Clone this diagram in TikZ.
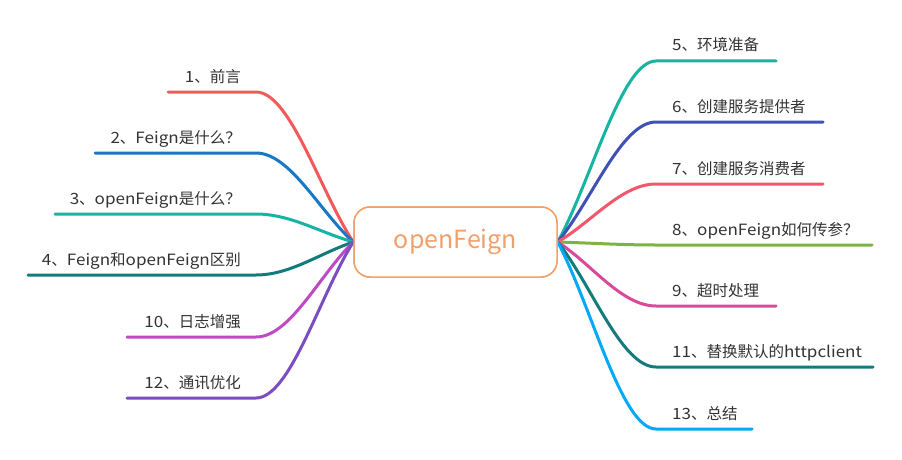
\documentclass[tikz,border=0pt]{standalone}
\usepackage{fontspec}
\setmainfont{Noto Sans CJK SC}
\newfontfamily\latf{Noto Sans CJK SC}[FakeStretch=1.1]
\newcommand\lt[1]{{\latf #1}}
\usetikzlibrary{calc}
\definecolor{cOrange}{HTML}{F2A06A}
\definecolor{cText}{HTML}{333333}
\definecolor{cA}{HTML}{F25A5A}
\definecolor{cB}{HTML}{1878C8}
\definecolor{cC}{HTML}{17B3A3}
\definecolor{cD}{HTML}{137B7B}
\definecolor{cE}{HTML}{C049C6}
\definecolor{cF}{HTML}{7A4DC2}
\definecolor{cG}{HTML}{3F51B5}
\definecolor{cH}{HTML}{F2576B}
\definecolor{cI}{HTML}{7CB342}
\definecolor{cJ}{HTML}{D94A9B}
\definecolor{cK}{HTML}{03A9F4}
\tikzset{
  lbl/.style={inner sep=0pt, text=cText, font=\fontsize{15.5}{18}\selectfont},
  br/.style={line width=3pt, line cap=round},
  mm/.style={to path={let \p1=(\tikztostart), \p2=(\tikztotarget) in
     .. controls ($(\p1)!0.35!(\p2)$) and ({\x1+0.65*(\x2-\x1)},\y2) .. (\p2)}},
  center/.style={draw=cOrange, line width=1.5pt, rounded corners=16pt, fill=white,
     minimum width=203pt, minimum height=70pt, text=cOrange,
     font=\fontsize{25}{30}\selectfont}
}
\begin{document}
\begin{tikzpicture}[x=1pt,y=-1pt]
\useasboundingbox[fill=white] (0,0) rectangle (902,460);
% right side coordinates
\coordinate (s5) at (656,61);  \coordinate (e5) at (776,61);
\coordinate (s6) at (656,122); \coordinate (e6) at (823,122);
\coordinate (s7) at (656,184); \coordinate (e7) at (823,184);
\coordinate (s8) at (656,245); \coordinate (e8) at (872,245);
\coordinate (s9) at (656,306); \coordinate (e9) at (776,306);
\coordinate (s11) at (656,367); \coordinate (e11) at (873,367);
\coordinate (s13) at (656,429); \coordinate (e13) at (752,429);
% left side coordinates
\coordinate (s1) at (256,92);  \coordinate (e1) at (168,92);
\coordinate (s2) at (256,153); \coordinate (e2) at (95,153);
\coordinate (s3) at (256,214); \coordinate (e3) at (55,214);
\coordinate (s4) at (256,275); \coordinate (e4) at (28,275);
\coordinate (s10) at (256,337); \coordinate (e10) at (127,337);
\coordinate (s12) at (256,398); \coordinate (e12) at (127,398);
% center node (placed first for anchors)
\node[center] (c) at (455.5,242) {openFeign};
% connectors
\draw[br, cA] (c.west) to[mm] (s1) -- (e1);
\draw[br, cB] (c.west) to[mm] (s2) -- (e2);
\draw[br, cC] (c.west) to[mm] (s3) -- (e3);
\draw[br, cD] (c.west) to[mm] (s4) -- (e4);
\draw[br, cE] (c.west) to[mm] (s10) -- (e10);
\draw[br, cF] (c.west) to[mm] (s12) -- (e12);
\draw[br, cC] (c.east) to[mm] (s5) -- (e5);
\draw[br, cG] (c.east) to[mm] (s6) -- (e6);
\draw[br, cH] (c.east) to[mm] (s7) -- (e7);
\draw[br, cI] (c.east) to[mm] (s8) -- (e8);
\draw[br, cJ] (c.east) to[mm] (s9) -- (e9);
\draw[br, cD] (c.east) to[mm] (s11) -- (e11);
\draw[br, cK] (c.east) to[mm] (s13) -- (e13);
% redraw center on top
\node[center] at (c) {openFeign};
% labels left
\node[lbl, anchor=base east] (n1) at (241,82) {\lt{1}、前言};
\node[lbl, anchor=base east] (n2) at (241,143) {\lt{2}、\lt{Feign}是什么？};
\node[lbl, anchor=base east] (n3) at (241,204) {\lt{3}、\lt{openFeign}是什么？};
\node[lbl, anchor=base east] (n4) at (241,265) {\lt{4}、\lt{Feign}和\lt{openFeign}区别};
\node[lbl, anchor=base east] (n10) at (241,327) {\lt{10}、日志增强};
\node[lbl, anchor=base east] (n12) at (241,388) {\lt{12}、通讯优化};
% labels right
\node[lbl, anchor=base west] (n5) at (672,51) {\lt{5}、环境准备};
\node[lbl, anchor=base west] (n6) at (672,112) {\lt{6}、创建服务提供者};
\node[lbl, anchor=base west] (n7) at (672,174) {\lt{7}、创建服务消费者};
\node[lbl, anchor=base west] (n8) at (672,235) {\lt{8}、\lt{openFeign}如何传参？};
\node[lbl, anchor=base west] (n9) at (672,296) {\lt{9}、超时处理};
\node[lbl, anchor=base west] (n11) at (672,357) {\lt{11}、替换默认的\lt{httpclient}};
\node[lbl, anchor=base west] (n13) at (672,419) {\lt{13}、总结};
\end{tikzpicture}
\end{document}
